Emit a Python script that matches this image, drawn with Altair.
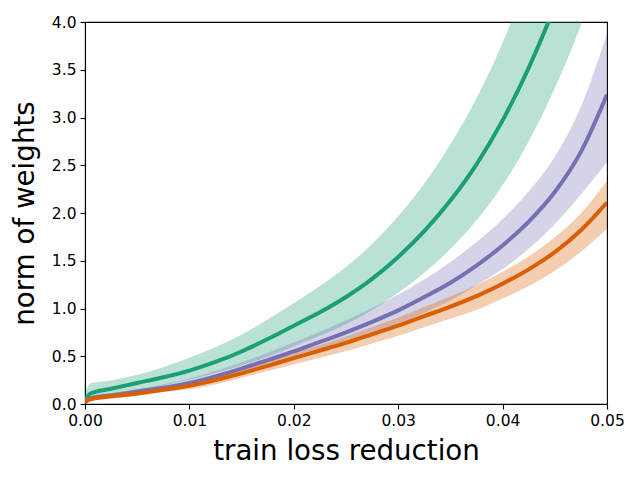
import altair as alt
import pandas as pd

x_vals = [0.0, 0.0005, 0.0025, 0.005, 0.0075, 0.01, 0.0125, 0.015, 0.0175, 0.02,
          0.0225, 0.025, 0.0275, 0.03, 0.0325, 0.035, 0.0375, 0.04, 0.0425, 0.045,
          0.0475, 0.05]

green_mean = [0.03, 0.11, 0.16, 0.22, 0.28, 0.35, 0.44, 0.55, 0.68, 0.82,
              0.96, 1.12, 1.31, 1.54, 1.81, 2.13, 2.51, 2.97, 3.52, 4.17, 4.95, 5.88]
green_lo = [0.00, 0.06, 0.10, 0.15, 0.20, 0.26, 0.33, 0.41, 0.50, 0.61,
            0.72, 0.84, 0.99, 1.17, 1.38, 1.63, 1.93, 2.30, 2.76, 3.32, 3.98, 4.76]
green_hi = [0.08, 0.21, 0.24, 0.30, 0.38, 0.48, 0.59, 0.72, 0.88, 1.05,
            1.23, 1.43, 1.67, 1.96, 2.30, 2.71, 3.19, 3.77, 4.47, 5.30, 6.29, 7.47]

purple_mean = [0.02, 0.06, 0.09, 0.13, 0.17, 0.22, 0.29, 0.37, 0.46, 0.55,
               0.65, 0.75, 0.86, 0.98, 1.12, 1.27, 1.45, 1.66, 1.91, 2.22, 2.64, 3.24]
purple_lo = [0.01, 0.04, 0.07, 0.11, 0.14, 0.19, 0.25, 0.32, 0.40, 0.47,
             0.56, 0.64, 0.74, 0.84, 0.96, 1.09, 1.25, 1.42, 1.63, 1.89, 2.20, 2.54]
purple_hi = [0.03, 0.08, 0.11, 0.15, 0.20, 0.26, 0.34, 0.43, 0.53, 0.64,
             0.75, 0.87, 1.00, 1.14, 1.30, 1.48, 1.69, 1.93, 2.22, 2.58, 3.10, 3.86]

orange_mean = [0.02, 0.05, 0.08, 0.11, 0.15, 0.19, 0.25, 0.32, 0.40, 0.48,
               0.56, 0.64, 0.73, 0.82, 0.92, 1.02, 1.13, 1.26, 1.41, 1.59, 1.82, 2.11]
orange_lo = [0.01, 0.03, 0.06, 0.09, 0.13, 0.16, 0.21, 0.28, 0.35, 0.42,
             0.49, 0.56, 0.64, 0.72, 0.81, 0.90, 0.99, 1.11, 1.24, 1.40, 1.60, 1.84]
orange_hi = [0.03, 0.07, 0.10, 0.13, 0.17, 0.21, 0.28, 0.35, 0.44, 0.53,
             0.61, 0.70, 0.80, 0.90, 1.01, 1.12, 1.24, 1.38, 1.54, 1.74, 1.99, 2.33]

x_ticks = [0, 0.01, 0.02, 0.03, 0.04, 0.05]
y_ticks = [0, 0.5, 1, 1.5, 2, 2.5, 3, 3.5, 4]

series = [
    ("green", "#1b9e77", green_mean, green_lo, green_hi),
    ("purple", "#7570b3", purple_mean, purple_lo, purple_hi),
    ("orange", "#d95f02", orange_mean, orange_lo, orange_hi),
]

xs = alt.Scale(domain=[0, 0.05], nice=False, zero=False)
ys = alt.Scale(domain=[0, 4], nice=False)

x_axis = alt.Axis(values=x_ticks, format=".2f", title="train loss reduction",
                  titlePadding=9, labelFlush=False)
y_axis = alt.Axis(values=y_ticks, format=".1f", title="norm of weights",
                  titlePadding=12, labelFlush=False)

layers = []
for name, color, m, lo, hi in series:
    df = pd.DataFrame({"x": x_vals, "mean": m, "lo": lo, "hi": hi})
    band = alt.Chart(df).mark_area(
        color=color, opacity=0.3, stroke=color, strokeWidth=1,
        clip=True, interpolate="monotone"
    ).encode(
        x=alt.X("x:Q", scale=xs, axis=x_axis),
        y=alt.Y("lo:Q", scale=ys, axis=y_axis),
        y2="hi:Q",
    )
    line = alt.Chart(df).mark_line(
        color=color, strokeWidth=4, clip=True, interpolate="monotone"
    ).encode(
        x=alt.X("x:Q", scale=xs),
        y=alt.Y("mean:Q", scale=ys),
    )
    layers += [band, line]

chart = alt.layer(*layers).properties(
    width=522, height=382,
    autosize=alt.AutoSizeParams(type="none"),
    padding={"left": 77, "top": 14, "right": 25, "bottom": 76},
).configure_view(
    stroke="black", strokeWidth=1.1
).configure_axis(
    grid=False,
    domainColor="black",
    domainWidth=1.1,
    tickColor="black",
    tickWidth=1.1,
    labelColor="black",
    titleColor="black",
    tickSize=5,
    labelPadding=4,
    labelFontSize=15.5,
    labelFont="DejaVu Sans",
    titleFont="DejaVu Sans",
    titleFontSize=27.7,
    titleFontWeight="normal",
)

chart.save("out.html", embed_options={"renderer": "svg", "actions": False})
